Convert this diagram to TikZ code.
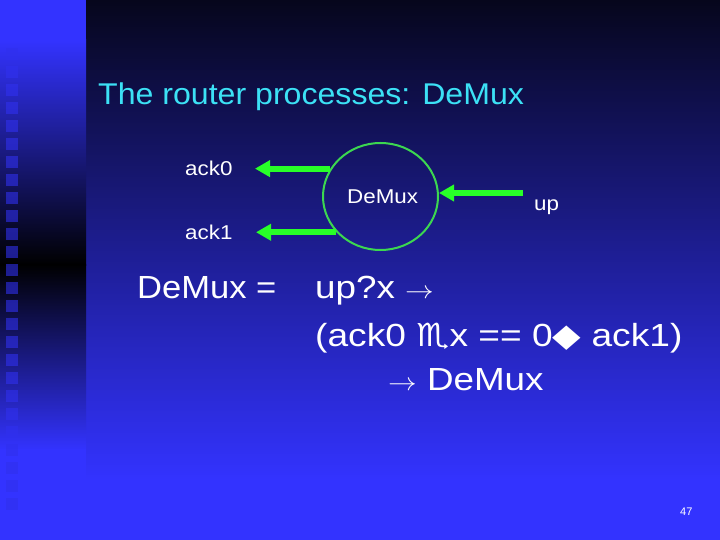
\documentclass[tikz,border=0pt]{standalone}
\usepackage{fontspec}
\setmainfont{Liberation Sans}
\newfontfamily\symfont{DejaVu Sans}
\usetikzlibrary{arrows.meta,shapes.geometric}
\definecolor{slideblue}{RGB}{51,51,255}
\definecolor{slidetop}{RGB}{6,6,28}
\definecolor{titlecyan}{RGB}{60,225,245}
\definecolor{arrgreen}{RGB}{40,255,40}
\definecolor{ringgreen}{RGB}{60,215,80}
\definecolor{sqblue}{RGB}{48,48,238}
\tikzset{
  txt/.style={anchor=base west, inner sep=0pt, text=white},
  titletxt/.style={anchor=base west, inner sep=0pt, text=titlecyan, font=\fontsize{30}{32}\selectfont},
  bodytxt/.style={txt, font=\fontsize{32}{34}\selectfont},
  labeltxt/.style={txt, font=\fontsize{20}{22}\selectfont},
  greenarrow/.style={draw=arrgreen, line width=6pt, -{Triangle[length=15pt,width=16pt]}},
  sq/.style={fill=sqblue, fill opacity=0.6, draw=none}
}
\begin{document}
\begin{tikzpicture}[x=1pt,y=-1pt]
\useasboundingbox (0,0) rectangle (720,540);
% main background
\shade[top color=slidetop, bottom color=slideblue] (86,0) rectangle (720,480);
\fill[slideblue] (86,479) rectangle (720,540);
% left strip
\fill[slideblue] (0,0) rectangle (86,41);
\shade[top color=slideblue, bottom color=black] (0,40) rectangle (86,265);
\shade[top color=black, bottom color=slideblue] (0,264) rectangle (86,450);
\fill[slideblue] (0,449) rectangle (86,540);
\foreach \k in {0,...,25}{
  \fill[sq] (6,48+18*\k) rectangle (18,60+18*\k);
}
% title
\node[titletxt] (title) at (98,105) {\scalebox{1.07}[1]{The router processes: DeMux}};
% diagram
\node[draw=ringgreen, line width=2pt, ellipse, minimum width=115pt, minimum height=107pt, inner sep=0pt] (dm) at (380.5,196.5) {};
\node[labeltxt] (dmtxt) at (347,204) {\scalebox{1.12}[1]{DeMux}};
\node[labeltxt] (ack0) at (185,176) {\scalebox{1.12}[1]{ack0}};
\node[labeltxt] (ack1) at (185,240) {\scalebox{1.12}[1]{ack1}};
\node[labeltxt] (up) at (534,211) {\scalebox{1.12}[1]{up}};
\coordinate (a0tip) at (255,169);
\coordinate (a1tip) at (256,232);
\coordinate (upstart) at (523,193);
\draw[greenarrow] (dm.151) -- (dm.151 -| a0tip);
\draw[greenarrow] (dm.219.5) -- (dm.219.5 -| a1tip);
\draw[greenarrow] (upstart) -- (upstart -| dm.east);
% equations
\node[bodytxt] (lhs) at (137,298) {\scalebox{1.08}[1]{DeMux =}};
\node[bodytxt] (l1) at (315,298) {\scalebox{1.15}[1]{up?x $\rightarrow$}};
\node[bodytxt] (l2) at (315,346) {\scalebox{1.16}[1]{(ack0 {\symfont ♏}x == 0{\symfont ◆} ack1)}};
\node[bodytxt] (l3) at (388,390) {\scalebox{1.15}[1]{$\rightarrow$ DeMux}};
% page number
\node[txt, font=\fontsize{11}{12}\selectfont] (pg) at (680,515) {47};
\end{tikzpicture}
\end{document}
